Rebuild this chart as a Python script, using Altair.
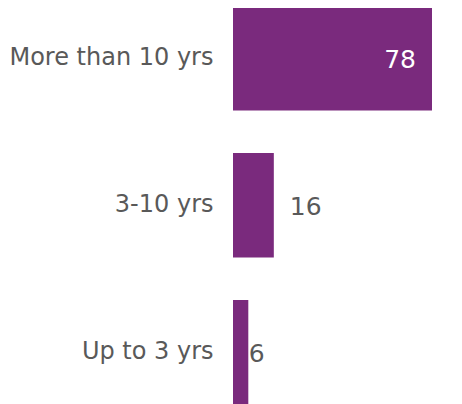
import altair as alt
import pandas as pd

categories = ["More than 10 yrs", "3-10 yrs", "Up to 3 yrs"]
values = [78, 16, 6]

df = pd.DataFrame({"cat": categories, "val": values})

FONT = "DejaVu Sans"
BAR = "#7A2A7D"
GRAY = "#595959"

y_enc = alt.Y("cat:N", sort=categories,
              scale=alt.Scale(paddingInner=0.289, paddingOuter=0),
              axis=alt.Axis(title=None, ticks=False, domain=False, labelFontSize=24,
                            labelFont=FONT, labelColor=GRAY, labelPadding=20,
                            labelLimit=300))
x_enc = alt.X("val:Q", scale=alt.Scale(domain=[0, 78], nice=False, zero=True),
              axis=None)

bars = alt.Chart(df).mark_bar(color=BAR).encode(x=x_enc, y=y_enc)

inside = alt.Chart(df).transform_filter(alt.datum.val >= 50).mark_text(
    align="right", baseline="middle", dx=-16, dy=2, fontSize=25, font=FONT, color="white"
).encode(x=x_enc, y=y_enc, text="val:Q")

mid = alt.Chart(df).transform_filter((alt.datum.val < 50) & (alt.datum.val >= 10)).mark_text(
    align="left", baseline="middle", dx=16, dy=2, fontSize=25, font=FONT, color=GRAY
).encode(x=x_enc, y=y_enc, text="val:Q")

small = alt.Chart(df).transform_filter(alt.datum.val < 10).mark_text(
    align="left", baseline="middle", dx=0.5, dy=2, fontSize=25, font=FONT, color=GRAY
).encode(x=x_enc, y=y_enc, text="val:Q")

chart = alt.layer(bars, inside, mid, small).properties(
    width=199, height=398.5,
    autosize=alt.AutoSizeParams(type="none"),
    padding={"left": 225, "top": -2, "right": 20, "bottom": 0},
).configure_view(stroke=None)

chart.save("out.html", embed_options={"renderer": "svg", "actions": False})
